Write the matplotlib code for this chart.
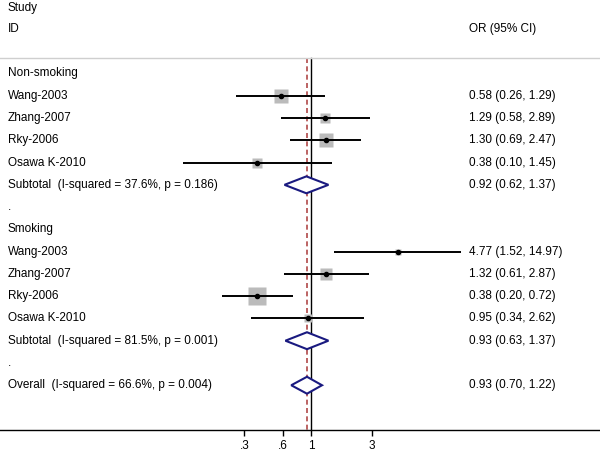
import numpy as np
import matplotlib
matplotlib.use("Agg")
from matplotlib import pyplot as plt
from matplotlib.patches import Polygon

plt.rcParams['font.family'] = ['Liberation Sans', 'DejaVu Sans']

# study rows
labels = ["Wang-2003", "Zhang-2007", "Rky-2006", "Osawa K-2010",
          "Wang-2003", "Zhang-2007", "Rky-2006", "Osawa K-2010"]
rows = [1, 2, 3, 4, 8, 9, 10, 11]
orr = [0.58, 1.29, 1.30, 0.38, 4.77, 1.32, 0.38, 0.95]
lo = [0.26, 0.58, 0.69, 0.10, 1.52, 0.61, 0.20, 0.34]
hi = [1.29, 2.89, 2.47, 1.45, 14.97, 2.87, 0.72, 2.62]
weights = [16.6, 9.8, 16.6, 8.0, 2.5, 11.9, 28.4, 6.3]

# pooled rows
pool_labels = ["Subtotal  (I-squared = 37.6%, p = 0.186)",
               "Subtotal  (I-squared = 81.5%, p = 0.001)",
               "Overall  (I-squared = 66.6%, p = 0.004)"]
pool_rows = [5, 12, 14]
pool_or = [0.92, 0.93, 0.93]
pool_lo = [0.62, 0.63, 0.70]
pool_hi = [1.37, 1.37, 1.22]

group_labels = ["Non-smoking", ".", "Smoking", "."]
group_rows = [0, 6, 7, 13]

ticks = [0.3, 0.6, 1, 3]
tick_labels = [".3", ".6", "1", "3"]
overall_or = 0.93

fig = plt.figure(figsize=(6.0, 4.53), dpi=100)
ax = fig.add_axes([0, 23 / 453, 1, 430 / 453])
ax.set_xscale("log")
ax.set_xlim(np.exp(-311 / 55.4), np.exp(289 / 55.4))
ax.set_ylim(16.01, -3.3)

for s in ["top", "left", "right"]:
    ax.spines[s].set_visible(False)
ax.spines["bottom"].set_linewidth(1.0)
ax.set_yticks([])
ax.set_xticks(ticks)
ax.set_xticklabels(tick_labels)
ax.xaxis.set_minor_locator(matplotlib.ticker.NullLocator())
ax.tick_params(axis="x", length=4, width=1, labelsize=8.5, pad=3)

fs = 8.5
tx = ax.get_yaxis_transform()
lx = 8 / 600
rx = 469 / 600

ax.text(lx, -2.95, "Study", transform=tx, fontsize=fs, va="center")
ax.text(lx, -2, "ID", transform=tx, fontsize=fs, va="center")
ax.text(rx, -2, "OR (95% CI)", transform=tx, fontsize=fs, va="center")
ax.axhline(-0.7, color="#cfcfcf", lw=1)

# reference lines
ax.plot([1, 1], [-0.7, 16.01], color="black", lw=1, zorder=1)
ax.plot([overall_or, overall_or], [-0.7, 16.01], color="#b04848", lw=1.2,
        dashes=(3, 2), zorder=1)

for g, r in zip(group_labels, group_rows):
    ax.text(lx, r, g, transform=tx, fontsize=fs, va="center")

wmax = max(weights)
for i in range(len(labels)):
    r = rows[i]
    ax.text(lx, r, labels[i], transform=tx, fontsize=fs, va="center")
    ax.text(rx, r, "%.2f (%.2f, %.2f)" % (orr[i], lo[i], hi[i]),
            transform=tx, fontsize=fs, va="center")
    ax.plot([lo[i], hi[i]], [r, r], color="black", lw=1.4, zorder=3,
            solid_capstyle="butt")
    side = 18 * np.sqrt(weights[i] / wmax)
    ax.plot(orr[i], r, marker="s", ms=side * 0.72, mfc="#bbbbbb",
            mec="none", zorder=2)
    ax.plot(orr[i], r, marker="o", ms=3, color="black", zorder=4)

for i in range(len(pool_labels)):
    r = pool_rows[i]
    ax.text(lx, r, pool_labels[i], transform=tx, fontsize=fs, va="center")
    ax.text(rx, r, "%.2f (%.2f, %.2f)" % (pool_or[i], pool_lo[i], pool_hi[i]),
            transform=tx, fontsize=fs, va="center")
    h = 0.38
    diamond = Polygon([[pool_lo[i], r], [pool_or[i], r - h],
                       [pool_hi[i], r], [pool_or[i], r + h]],
                      closed=True, facecolor="white", edgecolor="#1a1a80",
                      lw=1.5, zorder=5)
    ax.add_patch(diamond)

fig.savefig("out.png", dpi=100)
